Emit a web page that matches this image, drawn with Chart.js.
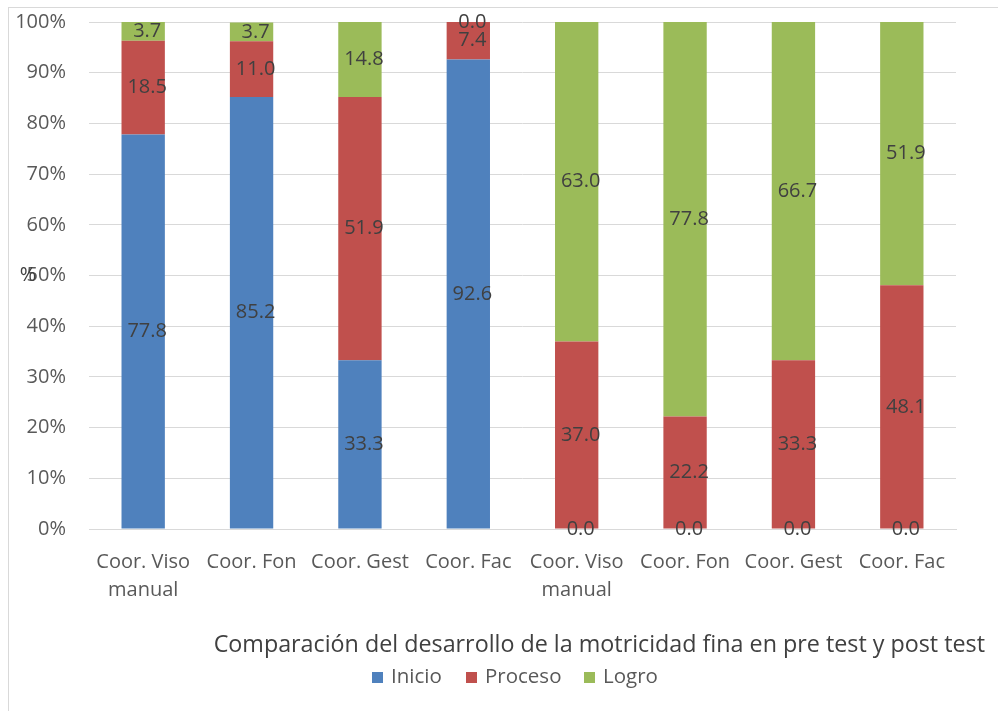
<!DOCTYPE html>
<html>
<head>
<meta charset="utf-8">
<script src="https://cdn.jsdelivr.net/npm/chart.js@4/dist/chart.umd.min.js"></script>
<style>
  html, body { margin: 0; padding: 0; background: #fff; }
  #wrap { position: relative; width: 998px; height: 711px; }
  canvas { display: block; }
</style>
</head>
<body>
<div id="wrap"><canvas id="c" width="998" height="711"></canvas></div>
<script>
const categories = [
  ["Coor. Viso", "manual"], "Coor. Fon", "Coor. Gest", "Coor. Fac",
  ["Coor. Viso", "manual"], "Coor. Fon", "Coor. Gest", "Coor. Fac"
];
const inicio  = [77.8, 85.2, 33.3, 92.6, 0.0, 0.0, 0.0, 0.0];
const proceso = [18.5, 11.0, 51.9, 7.4, 37.0, 22.2, 33.3, 48.1];
const logro   = [3.7, 3.7, 14.8, 0.0, 63.0, 77.8, 66.7, 51.9];
const seriesNames = ["Inicio", "Proceso", "Logro"];
const yTicks = [0, 10, 20, 30, 40, 50, 60, 70, 80, 90, 100];
const chartTitle = "Comparación del desarrollo de la motricidad fina en pre test y post test";
const axisTitle = "%";

const colors = ["#4F81BD", "#C0504D", "#9BBB59"];
const FONT = "'Open Sans', 'Noto Sans', sans-serif";

const decor = {
  id: 'decor',
  beforeDraw(chart) {
    const ctx = chart.ctx;
    ctx.save();
    ctx.strokeStyle = '#d9d9d9';
    ctx.lineWidth = 1;
    ctx.strokeRect(8.5, 7.5, 1000, 720);
    ctx.restore();
  },
  afterDatasetsDraw(chart) {
    const ctx = chart.ctx;
    ctx.save();
    ctx.font = "20px " + FONT;
    ctx.fillStyle = '#404040';
    ctx.textAlign = 'center';
    ctx.textBaseline = 'middle';
    chart.data.datasets.forEach((ds, di) => {
      const meta = chart.getDatasetMeta(di);
      meta.data.forEach((bar, i) => {
        const v = ds.data[i];
        const y = (bar.y + bar.base) / 2;
        ctx.fillText(v.toFixed(1), bar.x + 4, y);
      });
    });
    // axis title "%"
    ctx.font = "20px " + FONT;
    ctx.fillStyle = '#404040';
    const ys = chart.scales.y;
    ctx.fillText(axisTitle, 28, ys.getPixelForValue(50));
    // chart title
    ctx.font = "23.3px " + FONT;
    ctx.fillStyle = '#404040';
    ctx.textAlign = 'right';
    ctx.fillText(chartTitle, 985, 645);
    // legend
    ctx.font = "20.5px " + FONT;
    ctx.textAlign = 'left';
    const legendX = [372, 466, 584];
    seriesNames.forEach((n, k) => {
      ctx.fillStyle = colors[k];
      ctx.fillRect(legendX[k], 672, 11, 11);
      ctx.fillStyle = '#595959';
      ctx.fillText(n, legendX[k] + 19, 677);
    });
    ctx.restore();
  }
};

new Chart(document.getElementById('c'), {
  type: 'bar',
  data: {
    labels: categories,
    datasets: [
      { label: seriesNames[0], data: inicio, backgroundColor: colors[0] },
      { label: seriesNames[1], data: proceso, backgroundColor: colors[1] },
      { label: seriesNames[2], data: logro, backgroundColor: colors[2] }
    ]
  },
  options: {
    responsive: false,
    animation: false,
    devicePixelRatio: 1,
    layout: { padding: { left: 0, right: 42, top: 22, bottom: 0 } },
    datasets: { bar: { categoryPercentage: 1.0, barPercentage: 0.4, borderWidth: 0 } },
    plugins: { legend: { display: false }, title: { display: false }, tooltip: { enabled: false } },
    scales: {
      x: {
        stacked: true,
        grid: { display: false },
        border: { display: true, color: '#d9d9d9' },
        afterFit(scale) { scale.height = 182; scale.paddingLeft = 0; scale.paddingRight = 0; },
        ticks: { color: '#595959', font: { family: FONT, size: 20, lineHeight: 1.4 }, padding: 11, maxRotation: 0, autoSkip: false }
      },
      y: {
        stacked: true,
        min: 0, max: 100,
        afterFit(scale) { scale.width = 89; scale.paddingTop = 0; scale.paddingBottom = 0; },
        afterBuildTicks(scale) { scale.ticks = yTicks.map(v => ({ value: v })); },
        grid: { color: '#d9d9d9', drawTicks: false },
        border: { display: false },
        ticks: { color: '#595959', font: { family: FONT, size: 20 }, padding: 23, callback: v => v + '%' }
      }
    }
  },
  plugins: [decor]
});
</script>
</body>
</html>
